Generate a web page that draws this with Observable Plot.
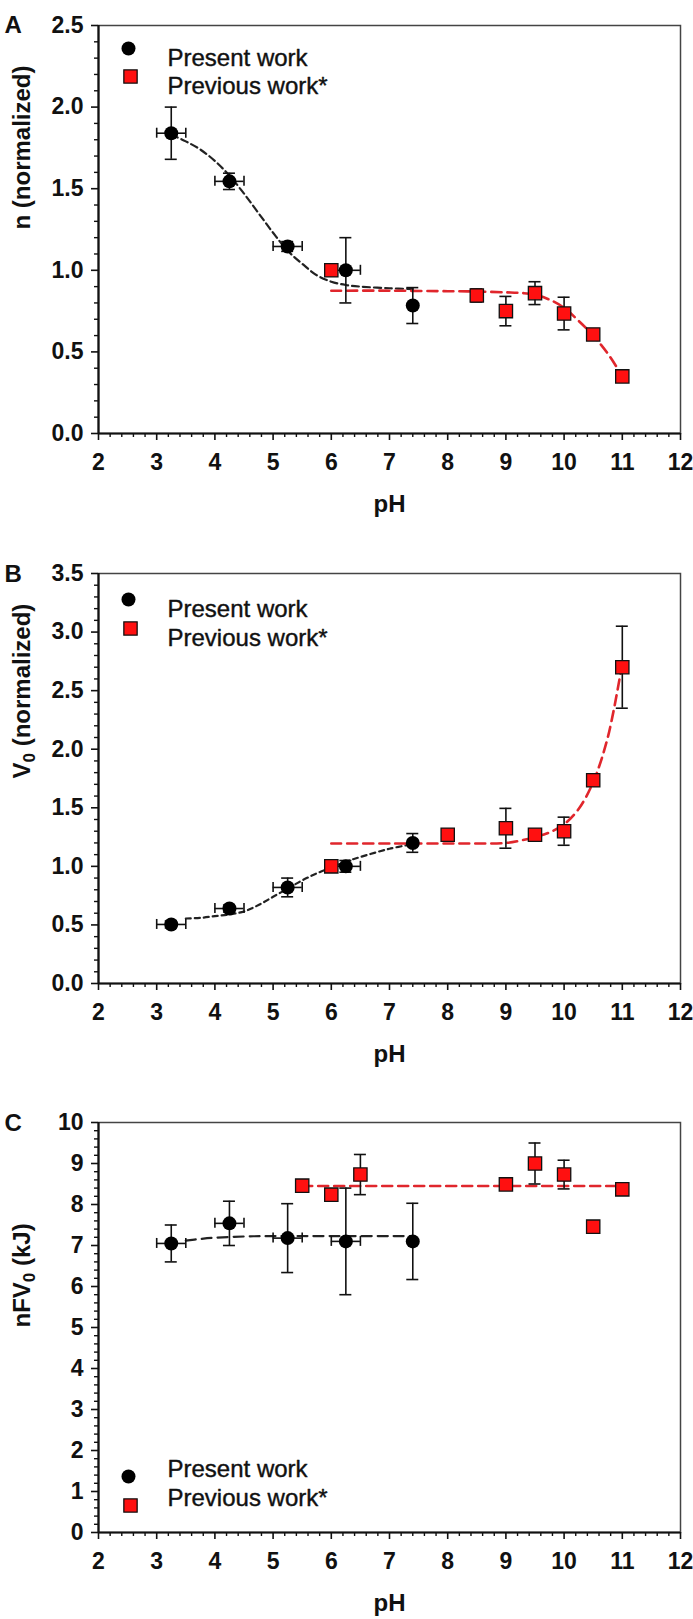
<!DOCTYPE html>
<html><head><meta charset="utf-8">
<script src="https://cdn.jsdelivr.net/npm/d3@7"></script>
<script src="https://cdn.jsdelivr.net/npm/@observablehq/plot@0.6"></script>
<style>
body{margin:0;background:#fff;}
#chart svg{display:block;}
</style></head><body><div id="chart"></div>
<script>
// ---------- shared ----------
const xTicks = [2, 3, 4, 5, 6, 7, 8, 9, 10, 11, 12];
const legendLabels = ["Present work", "Previous work*"];
const xLabel = "pH";

// ---------- panel A : n (normalized) ----------
const aYTicks = [0, 0.5, 1.0, 1.5, 2.0, 2.5];
const aPresentPH = [3.25, 4.25, 5.25, 6.25, 7.4];
const aPresentVal = [1.84, 1.545, 1.146, 1.0, 0.784];
const aPresentErr = [0.16, 0.05, 0.03, 0.2, 0.11];
const aPresentPHErr = [0.25, 0.25, 0.25, 0.25, 0];
const aPreviousPH = [6.0, 8.5, 9.0, 9.5, 10.0, 10.5, 11.0];
const aPreviousVal = [1.0, 0.846, 0.75, 0.86, 0.735, 0.607, 0.35];
const aPreviousErr = [0, 0.04, 0.09, 0.07, 0.10, 0, 0];
const aFitPresentPH = [3.25, 3.5, 3.75, 4.0, 4.25, 4.5, 4.75, 5.0, 5.25, 5.5, 5.75, 6.0, 6.25, 6.5, 7.0, 7.4];
const aFitPresentVal = [1.83, 1.79, 1.74, 1.67, 1.58, 1.47, 1.35, 1.23, 1.12, 1.04, 0.97, 0.93, 0.91, 0.9, 0.89, 0.885];
const aFitPreviousPH = [6.0, 7.0, 8.0, 8.5, 9.0, 9.3, 9.5, 9.75, 10.0, 10.25, 10.5, 10.75, 10.95];
const aFitPreviousVal = [0.875, 0.875, 0.872, 0.87, 0.865, 0.86, 0.85, 0.82, 0.77, 0.69, 0.60, 0.49, 0.38];

// ---------- panel B : V0 (normalized) ----------
const bYTicks = [0, 0.5, 1.0, 1.5, 2.0, 2.5, 3.0, 3.5];
const bPresentPH = [3.25, 4.25, 5.25, 6.25, 7.4];
const bPresentVal = [0.504, 0.64, 0.82, 1.0, 1.20];
const bPresentErr = [0.03, 0.03, 0.08, 0.05, 0.08];
const bPresentPHErr = [0.25, 0.25, 0.25, 0.25, 0];
const bPreviousPH = [6.0, 8.0, 9.0, 9.5, 10.0, 10.5, 11.0];
const bPreviousVal = [1.0, 1.27, 1.325, 1.27, 1.30, 1.735, 2.70];
const bPreviousErr = [0, 0, 0.17, 0, 0.12, 0.05, 0.35];
const bFitPresentPH = [3.5, 3.75, 4.0, 4.25, 4.5, 4.75, 5.0, 5.25, 5.5, 5.75, 6.0, 6.25, 6.5, 7.0, 7.4];
const bFitPresentVal = [0.555, 0.56, 0.575, 0.59, 0.615, 0.67, 0.74, 0.81, 0.88, 0.94, 0.99, 1.04, 1.08, 1.15, 1.19];
const bFitPreviousPH = [6.0, 7.0, 8.0, 8.5, 9.0, 9.25, 9.5, 9.75, 10.0, 10.25, 10.5, 10.75, 10.97];
const bFitPreviousVal = [1.195, 1.195, 1.195, 1.195, 1.20, 1.22, 1.25, 1.29, 1.36, 1.49, 1.72, 2.10, 2.65];

// ---------- panel C : nFV0 (kJ) ----------
const cYTicks = [0, 1, 2, 3, 4, 5, 6, 7, 8, 9, 10];
const cPresentPH = [3.25, 4.25, 5.25, 6.25, 7.4];
const cPresentVal = [7.05, 7.54, 7.18, 7.1, 7.1];
const cPresentErr = [0.45, 0.54, 0.84, 1.3, 0.93];
const cPresentPHErr = [0.25, 0.25, 0.25, 0.25, 0];
const cPreviousPH = [5.5, 6.0, 6.5, 9.0, 9.5, 10.0, 10.5, 11.0];
const cPreviousVal = [8.46, 8.24, 8.73, 8.49, 9.0, 8.73, 7.46, 8.37];
const cPreviousErr = [0, 0, 0.49, 0, 0.5, 0.35, 0, 0];
const cFitPresentPH = [3.5, 3.75, 4.0, 4.5, 5.0, 6.0, 7.4];
const cFitPresentVal = [7.12, 7.16, 7.19, 7.22, 7.23, 7.23, 7.23];
const cFitPreviousPH = [5.5, 11.0];
const cFitPreviousVal = [8.45, 8.45];

// ---------- drawing ----------
const RED = "#ff1010";
const RED_LINE = "#e0262c";
const FONT = "'Liberation Sans', Arial, sans-serif";

function rows(ph, val, err, phErr) {
  return ph.map((p, i) => ({ph: p, v: val[i], err: err ? err[i] : 0, pherr: phErr ? phErr[i] : 0}));
}
function line(ph, val) { return ph.map((p, i) => ({ph: p, v: val[i]})); }

function errorMarks(data) {
  const ye = data.filter(d => d.err > 0);
  const xe = data.filter(d => d.pherr > 0);
  const s = {stroke: "#111", strokeWidth: 1.6};
  return [
    Plot.ruleX(ye, {x: "ph", y1: d => d.v - d.err, y2: d => d.v + d.err, ...s}),
    Plot.ruleY(ye, {y: d => d.v + d.err, x1: "ph", x2: "ph", insetLeft: -6, insetRight: -6, ...s}),
    Plot.ruleY(ye, {y: d => d.v - d.err, x1: "ph", x2: "ph", insetLeft: -6, insetRight: -6, ...s}),
    Plot.ruleY(xe, {y: "v", x1: d => d.ph - d.pherr, x2: d => d.ph + d.pherr, ...s}),
    Plot.ruleX(xe, {x: d => d.ph - d.pherr, y1: "v", y2: "v", insetTop: -5, insetBottom: -5, ...s}),
    Plot.ruleX(xe, {x: d => d.ph + d.pherr, y1: "v", y2: "v", insetTop: -5, insetBottom: -5, ...s})
  ];
}

function panel(o) {
  const x0 = xTicks[0];
  const y0 = o.yTicks[0];
  const yMax = o.yTicks[o.yTicks.length - 1];
  const xMinor = d3.range(x0, xTicks[xTicks.length - 1] + 1e-9, 0.2).filter(v => Math.abs(v - Math.round(v)) > 1e-6);
  const yMinor = d3.range(y0, yMax + 1e-9, o.yMinorStep).filter(v => !o.yTicks.some(t => Math.abs(t - v) < 1e-6));
  const present = rows(o.presentPH, o.presentVal, o.presentErr, o.presentPHErr);
  const previous = rows(o.previousPH, o.previousVal, o.previousErr, null);
  const lg = o.legend;
  const svg = Plot.plot({
    width: 693,
    height: o.height,
    marginTop: o.marginTop,
    marginBottom: o.marginBottom,
    marginLeft: 98,
    marginRight: 13,
    style: {fontFamily: FONT, fontSize: "23px", background: "white", overflow: "visible", color: "#111"},
    x: {domain: [x0, xTicks[xTicks.length - 1]], axis: null},
    y: {domain: [y0, yMax], axis: null},
    marks: [
      Plot.frame({stroke: "#444", strokeWidth: 1.5}),
      Plot.ruleX([x0], {stroke: "#111", strokeWidth: 2.2}),
      Plot.ruleY([y0], {stroke: "#111", strokeWidth: 2.2}),
      Plot.ruleY(o.yTicks, {y: d => d, x1: x0, x2: x0, insetLeft: -7, stroke: "#111", strokeWidth: 1.6}),
      Plot.ruleY(yMinor, {y: d => d, x1: x0, x2: x0, insetLeft: -4, stroke: "#111", strokeWidth: 1.4}),
      Plot.ruleX(xTicks, {x: d => d, y1: y0, y2: y0, insetBottom: -7, stroke: "#111", strokeWidth: 1.6}),
      Plot.ruleX(xMinor, {x: d => d, y1: y0, y2: y0, insetBottom: -4, stroke: "#111", strokeWidth: 1.4}),
      Plot.text(o.yTicks, {x: x0, y: d => d, text: o.yFormat, textAnchor: "end", dx: -15, fontWeight: "bold", fontSize: 23, fill: "#111"}),
      Plot.text(xTicks, {x: d => d, y: y0, text: d => String(d), lineAnchor: "top", dy: 20, fontWeight: "bold", fontSize: 23, fill: "#111"}),
      Plot.text([xLabel], {frameAnchor: "bottom", text: d => d, lineAnchor: "top", dy: 61, fontWeight: "bold", fontSize: 24, fill: "#111"}),
      Plot.text([o.yLabel], {frameAnchor: "left", text: d => d, rotate: -90, dx: -76, fontWeight: "bold", fontSize: 24, fill: "#111"}),
      Plot.text([o.letter], {frameAnchor: "top-left", text: d => d, textAnchor: "start", dx: -94, dy: o.letterDy, fontSize: 24, fontWeight: "bold", fill: "#111"}),
      Plot.line(line(o.fitPresentPH, o.fitPresentVal), {x: "ph", y: "v", curve: "catmull-rom", stroke: "#222", strokeWidth: 2.2, strokeDasharray: o.blackDash}),
      Plot.line(line(o.fitPreviousPH, o.fitPreviousVal), {x: "ph", y: "v", curve: "catmull-rom", stroke: RED_LINE, strokeWidth: 2.6, strokeDasharray: "10,6"}),
      ...errorMarks(previous),
      ...errorMarks(present),
      Plot.dot(previous, {x: "ph", y: "v", symbol: "square", r: 7.5, fill: RED, stroke: "#111", strokeWidth: 1.3}),
      Plot.dot(present, {x: "ph", y: "v", r: 7, fill: "#000"}),
      Plot.dot([0], {frameAnchor: lg.anchor, dx: 30, dy: lg.dy1, r: 7, fill: "#000"}),
      Plot.dot([0], {frameAnchor: lg.anchor, dx: 32, dy: lg.dy2, symbol: "square", r: 7.5, fill: RED, stroke: "#111", strokeWidth: 1.3}),
      Plot.text([legendLabels[0]], {frameAnchor: lg.anchor, dx: 69, dy: lg.dy1, text: d => d, textAnchor: "start", fontSize: 24, fill: "#111", stroke: "#111", strokeWidth: 0.4}),
      Plot.text([legendLabels[1]], {frameAnchor: lg.anchor, dx: 69, dy: lg.dy2, text: d => d, textAnchor: "start", fontSize: 24, fill: "#111", stroke: "#111", strokeWidth: 0.4})
    ]
  });
  svg.querySelectorAll("text").forEach(t => {
    const s = t.textContent;
    const m = s.match(/^(.*V)0(.*)$/);
    if (m && t.children.length === 0) {
      t.textContent = "";
      const ns = "http://www.w3.org/2000/svg";
      const a = document.createElementNS(ns, "tspan"); a.textContent = m[1];
      const b = document.createElementNS(ns, "tspan"); b.textContent = "0";
      b.setAttribute("font-size", "17"); b.setAttribute("dy", "5");
      const c = document.createElementNS(ns, "tspan"); c.textContent = m[2]; c.setAttribute("dy", "-5");
      t.append(a, b, c);
    }
  });
  return svg;
}

const chart = document.getElementById("chart");
chart.append(panel({
  height: 540, marginTop: 25, marginBottom: 107,
  yTicks: aYTicks, yMinorStep: 0.1, yFormat: d => d.toFixed(1),
  yLabel: "n (normalized)", letter: "A", letterDy: -10,
  presentPH: aPresentPH, presentVal: aPresentVal, presentErr: aPresentErr, presentPHErr: aPresentPHErr,
  previousPH: aPreviousPH, previousVal: aPreviousVal, previousErr: aPreviousErr,
  fitPresentPH: aFitPresentPH, fitPresentVal: aFitPresentVal,
  fitPreviousPH: aFitPreviousPH, fitPreviousVal: aFitPreviousVal,
  blackDash: "7,4",
  legend: {anchor: "top-left", dy1: 23, dy2: 51}
}));
chart.append(panel({
  height: 550, marginTop: 33, marginBottom: 107,
  yTicks: bYTicks, yMinorStep: 0.1, yFormat: d => d.toFixed(1),
  yLabel: "V0 (normalized)", letter: "B", letterDy: -9,
  presentPH: bPresentPH, presentVal: bPresentVal, presentErr: bPresentErr, presentPHErr: bPresentPHErr,
  previousPH: bPreviousPH, previousVal: bPreviousVal, previousErr: bPreviousErr,
  fitPresentPH: bFitPresentPH, fitPresentVal: bFitPresentVal,
  fitPreviousPH: bFitPreviousPH, fitPreviousVal: bFitPreviousVal,
  blackDash: "5,4",
  legend: {anchor: "top-left", dy1: 26, dy2: 55}
}));
chart.append(panel({
  height: 529, marginTop: 32, marginBottom: 87,
  yTicks: cYTicks, yMinorStep: 0.2, yFormat: d => String(d),
  yLabel: "nFV0 (kJ)", letter: "C", letterDy: -9,
  presentPH: cPresentPH, presentVal: cPresentVal, presentErr: cPresentErr, presentPHErr: cPresentPHErr,
  previousPH: cPreviousPH, previousVal: cPreviousVal, previousErr: cPreviousErr,
  fitPresentPH: cFitPresentPH, fitPresentVal: cFitPresentVal,
  fitPreviousPH: cFitPreviousPH, fitPreviousVal: cFitPreviousVal,
  blackDash: "10,6",
  legend: {anchor: "bottom-left", dy1: -56, dy2: -27}
}));
</script>
</body></html>
